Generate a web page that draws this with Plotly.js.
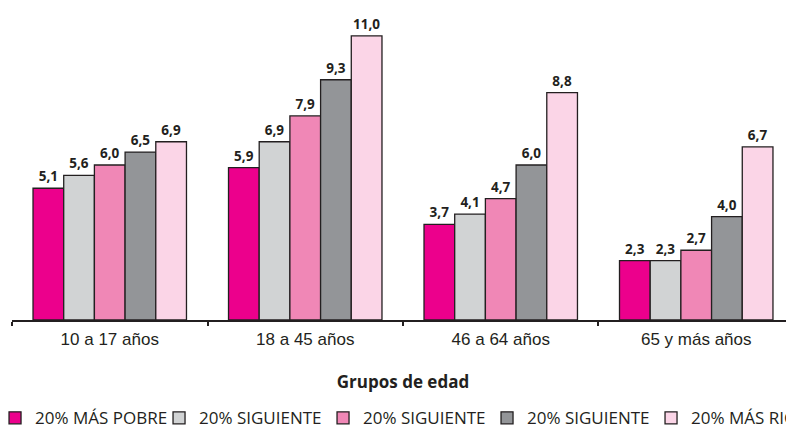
<!DOCTYPE html>
<html>
<head>
<meta charset="utf-8">
<script src="https://cdn.plot.ly/plotly-3.0.1.min.js"></script>
<style>
html,body{margin:0;padding:0;overflow:hidden;background:#fff;}
#chart{width:820px;height:440px;}
</style>
</head>
<body>
<div id="chart"></div>
<script>
const categories = ["10 a 17 años", "18 a 45 años", "46 a 64 años", "65 y más años"];
const seriesNames = ["20% MÁS POBRE", "20% SIGUIENTE", "20% SIGUIENTE", "20% SIGUIENTE", "20% MÁS RICO"];
const q1 = [5.1, 5.9, 3.7, 2.3];
const q2 = [5.6, 6.9, 4.1, 2.3];
const q3 = [6.0, 7.9, 4.7, 2.7];
const q4 = [6.5, 9.3, 6.0, 4.0];
const q5 = [6.9, 11.0, 8.8, 6.7];
const colors = ["#EC008C", "#D1D3D4", "#F087B6", "#939598", "#FBD5E7"];

const values = [q1, q2, q3, q4, q5];
const traces = values.map((v, i) => ({
  type: "bar",
  name: seriesNames[i],
  x: categories,
  y: v,
  marker: {color: colors[i], line: {color: "#231F20", width: 1.3}},
  texttemplate: "%{y:.1f}",
  textposition: "outside",
  cliponaxis: false,
  textfont: {family: "Open Sans, sans-serif", size: 13.5, color: "#231F20", weight: "bold"},
  hoverinfo: "skip"
}));

const layout = {
  width: 820,
  height: 440,
  margin: {l: 12, r: 0, t: 10, b: 120, autoexpand: false},
  paper_bgcolor: "#fff",
  plot_bgcolor: "#fff",
  separators: ",.",
  barmode: "group",
  bargap: 0.215,
  bargroupgap: 0,
  font: {family: "Open Sans, sans-serif", color: "#231F20"},
  xaxis: {
    domain: [0, 0.9678],
    showline: true,
    linecolor: "#231F20",
    linewidth: 2,
    ticks: "outside",
    tickson: "boundaries",
    ticklen: 4,
    tickwidth: 2,
    tickcolor: "#231F20",
    ticklabelstandoff: 3,
    tickfont: {family: "Liberation Sans, Arial, sans-serif", size: 17, color: "#231F20"},
    title: {text: "Grupos de edad", font: {family: "Open Sans, sans-serif", size: 17, color: "#231F20", weight: "bold"}, standoff: 28},
    fixedrange: true
  },
  yaxis: {
    range: [0, 12],
    visible: false,
    showgrid: false,
    zeroline: false,
    fixedrange: true
  },
  showlegend: true,
  legend: {
    orientation: "h",
    x: -0.021,
    xanchor: "left",
    y: -0.317,
    yanchor: "middle",
    entrywidth: 0.2,
    entrywidthmode: "fraction",
    font: {family: "Open Sans, sans-serif", size: 17, color: "#231F20"},
    traceorder: "normal"
  }
};

Plotly.newPlot("chart", traces, layout, {displayModeBar: false, staticPlot: true});
</script>
</body>
</html>
